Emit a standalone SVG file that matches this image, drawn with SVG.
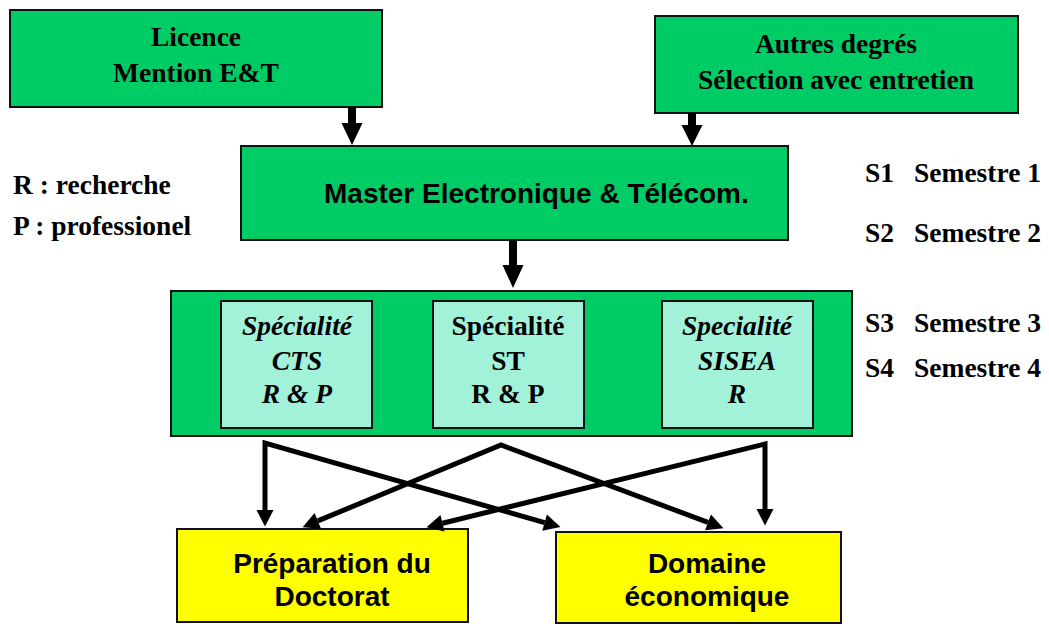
<svg xmlns="http://www.w3.org/2000/svg" width="1049" height="624" viewBox="0 0 1049 624">
<style>
.g{fill:#00CC66;stroke:#111;stroke-width:2}
.c{fill:#A2F2DA;stroke:#111;stroke-width:2}
.y{fill:#FFFF00;stroke:#111;stroke-width:2}
.t{font-family:"Liberation Serif","Times New Roman",serif;font-weight:bold;font-size:27.5px;fill:#000}
.ti{font-style:italic}
.a{font-family:"Liberation Sans",Arial,sans-serif;font-weight:bold;font-size:28px;fill:#000}
.m{text-anchor:middle}
.ln{fill:none;stroke:#000;stroke-width:5;stroke-linejoin:miter;marker-start:url(#ah);marker-end:url(#ah)}
.blk{fill:#000}
</style>
<defs>
<marker id="ah" markerUnits="userSpaceOnUse" viewBox="0 -9 17 18" refX="0" refY="0" markerWidth="17" markerHeight="18" orient="auto-start-reverse" overflow="visible">
<path d="M0,-8.5 L16.5,0 L0,8.5 Z" fill="#000"/>
</marker>
</defs>

<g id="licence">
<rect class="g" x="10" y="10" width="372" height="97"/>
<text class="t m" x="196" y="46">Licence</text>
<text class="t m" x="196" y="82">Mention E&amp;T</text>
</g>

<g id="autres">
<rect class="g" x="655" y="16" width="363" height="97"/>
<text class="t m" x="836" y="53">Autres degrés</text>
<text class="t m" x="836" y="89">Sélection avec entretien</text>
</g>

<g id="master">
<rect class="g" x="241" y="146" width="547" height="94"/>
<text class="a" x="324" y="203">Master Electronique &amp; Télécom.</text>
</g>

<g id="legend">
<text class="t" x="13" y="194">R : recherche</text>
<text class="t" x="13" y="235">P : professionel</text>
</g>

<g id="semestres">
<text class="t" y="182"><tspan x="865">S1</tspan><tspan x="914">Semestre 1</tspan></text>
<text class="t" y="242"><tspan x="865">S2</tspan><tspan x="914">Semestre 2</tspan></text>
<text class="t" y="332"><tspan x="865">S3</tspan><tspan x="914">Semestre 3</tspan></text>
<text class="t" y="377"><tspan x="865">S4</tspan><tspan x="914">Semestre 4</tspan></text>
</g>

<g id="specialites">
<rect class="g" x="171" y="291" width="681" height="145"/>
</g>

<g id="cts">
<rect class="c" x="221" y="301" width="151" height="127"/>
<text class="t ti m" x="297" y="335">Spécialité</text>
<text class="t ti m" x="297" y="370">CTS</text>
<text class="t ti m" x="297" y="403">R &amp; P</text>
</g>

<g id="st">
<rect class="c" x="433" y="301" width="151" height="127"/>
<text class="t m" x="508" y="335">Spécialité</text>
<text class="t m" x="508" y="370">ST</text>
<text class="t m" x="508" y="403">R &amp; P</text>
</g>

<g id="sisea">
<rect class="c" x="662" y="301" width="151" height="127"/>
<text class="t ti m" x="737" y="335">Specialité</text>
<text class="t ti m" x="737" y="370">SISEA</text>
<text class="t ti m" x="737" y="403">R</text>
</g>

<g id="doctorat">
<rect class="y" x="177" y="529" width="291" height="93"/>
<text class="a m" x="332" y="573">Préparation du</text>
<text class="a m" x="332" y="606">Doctorat</text>
</g>

<g id="domaine">
<rect class="y" x="556" y="532" width="285" height="91"/>
<text class="a m" x="707" y="573">Domaine</text>
<text class="a m" x="707" y="606">économique</text>
</g>

<g id="connectors">
<polygon class="blk" points="348,107 356,107 356,123 362.5,123 352,145 341.5,123 348,123"/>
<polygon class="blk" points="688,113 696,113 696,125 702.5,125 692,146 681.5,125 688,125"/>
<polygon class="blk" points="509,240 517,240 517,265 523.5,265 513,288 502.5,265 509,265"/>
<path class="ln" d="M265,510 L265,443 L544.6,522.6"/>
<path class="ln" d="M317.8,520.9 L501,445 L708,522.4"/>
<path class="ln" d="M765,509 L765,444 L442.5,523.2"/>
</g>
</svg>
